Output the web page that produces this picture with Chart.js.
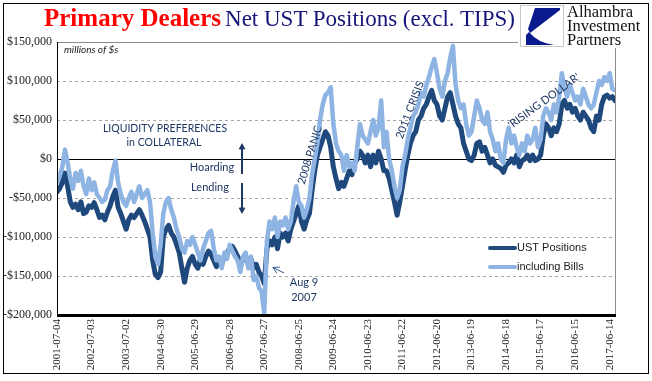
<!DOCTYPE html>
<html>
<head>
<meta charset="utf-8">
<script src="https://cdn.jsdelivr.net/npm/chart.js@4.4.0/dist/chart.umd.min.js"></script>
<style>
  html, body { margin: 0; padding: 0; background: #fff; }
  #wrap { position: relative; width: 652px; height: 381px; overflow: hidden; }
  #frame { position: absolute; left: 3px; top: 3px; width: 644px; height: 369px; border: 1px solid #000; pointer-events: none; z-index: 5; }
  #title { position: absolute; left: 44px; top: 3px; white-space: nowrap; font-family: "Liberation Serif", serif; line-height: 30px; z-index: 3; }
  #title .red { color: #ff0000; font-weight: bold; font-size: 25px; }
  #title .navy { color: #15157a; font-size: 23px; }
  #logo { position: absolute; left: 518px; top: 4px; width: 129px; height: 44px; background: #fff; z-index: 3; }
  #logo svg { position: absolute; left: 2px; top: 1px; }
  #logo .txt { position: absolute; left: 49px; top: 1px; font-family: "Liberation Serif", serif; font-size: 16.5px; line-height: 14px; color: #111; }
</style>
</head>
<body>
<div id="wrap">
  <canvas id="chart" width="652" height="381"></canvas>
  <div id="title"><span class="red">Primary Dealers</span> <span class="navy">Net UST Positions (excl. TIPS)</span></div>
  <div id="logo">
    <svg width="44" height="42" viewBox="0 0 44 42">
      <rect x="0.5" y="0.5" width="43" height="41" fill="#fff" stroke="#c8c8c8"/>
      <path d="M15 3 L40 3 L40 5 L10 28 L8 24 Z" fill="#0a1a8c"/>
      <path d="M6 40 L34 40 Q18 38 9 27 L6 30 Z" fill="#0a1a8c"/>
    </svg>
    <div class="txt">Alhambra<br>Investment<br>Partners</div>
  </div>
  <div id="frame"></div>
</div>
<script>
// weekly series sampled every 4 weeks, starting 2001-07-04 (millions of $)
const weekStep = 4;

const ustPositions = [
  -42000, -38000, -30000, -18000, -35000, -55000, -62000, -58000, -65000, -55000,
  -70000, -68000, -60000, -62000, -56000, -65000, -75000, -72000, -78000, -68000,
  -60000, -48000, -40000, -62000, -70000, -80000, -90000, -78000, -72000, -75000,
  -70000, -65000, -72000, -80000, -90000, -100000, -130000, -148000, -152000, -145000,
  -100000, -90000, -85000, -95000, -100000, -110000, -120000, -140000, -158000, -140000,
  -130000, -125000,
  -135000, -140000, -128000, -135000, -125000, -118000, -122000, -130000, -138000, -128000,
  -135000, -125000, -120000, -115000, -112000, -118000, -125000, -132000, -130000, -125000,
  -135000, -128000, -140000, -135000, -145000, -150000, -160000, -115000, -105000, -110000,
  -100000, -115000, -95000, -100000, -95000, -105000, -90000, -80000, -70000, -60000,
  -80000, -90000, -78000, -70000, -40000, -15000, 5000, 15000, 25000, 35000,
  30000, 15000, -10000,
  -25000, -38000, -30000, -35000, -25000, -15000, -20000, -5000, 0, 10000,
  5000, -5000, 5000, -10000, 5000, -5000, 10000, 0, -15000, -15000,
  -25000, -40000, -55000, -72000, -55000, -35000, -15000, 5000, 20000, 30000,
  35000, 50000, 55000, 65000, 70000, 80000, 88000, 75000, 70000, 55000,
  50000, 65000, 80000, 85000, 70000, 55000, 45000, 40000, 20000, 10000,
  0, -2000, 5000,
  20000, 22000, 10000, 15000, 5000, -5000, 0, -8000, -10000, -12000,
  -17000, -8000, -5000, 0, -5000, 5000, -10000, -2000, 0, 5000,
  -2000, 5000, -2000, 0, 5000, 30000, 45000, 40000, 30000, 40000,
  35000, 45000, 70000, 75000, 65000, 70000, 60000, 65000, 55000, 50000,
  60000, 55000, 50000, 40000, 35000, 55000, 50000, 70000, 80000, 82000,
  78000, 80000, 75000
];

const inclBills = [
  -30000, -22000, -10000, 12000, -5000, -25000, -38000, -18000, -28000, -15000,
  -35000, -45000, -25000, -40000, -30000, -45000, -50000, -55000, -52000, -40000,
  -35000, -15000, -2000, -30000, -45000, -55000, -60000, -50000, -42000, -55000,
  -45000, -35000, -50000, -45000, -40000, -55000, -95000, -125000, -135000, -110000,
  -70000, -55000, -50000, -65000, -75000, -90000, -100000, -115000, -120000, -105000,
  -110000, -100000,
  -110000, -120000, -130000, -115000, -105000, -95000, -92000, -115000, -130000, -125000,
  -140000, -120000, -128000, -110000, -118000, -125000, -130000, -145000, -125000, -120000,
  -140000, -125000, -155000, -150000, -165000, -170000, -198000, -105000, -80000, -90000,
  -75000, -100000, -80000, -85000, -75000, -90000, -80000, -55000, -35000, -55000,
  -60000, -75000, -65000, -50000, -20000, 0, 20000, 50000, 70000, 82000,
  85000, 92000, 45000,
  20000, 10000, 5000, -15000, 5000, -10000, -5000, -15000, 15000, 45000,
  30000, 25000, 20000, 35000, 50000, 30000, 40000, 75000, 15000, 35000,
  0, -15000, -35000, -50000, -40000, -10000, 5000, 25000, 40000, 55000,
  60000, 70000, 85000, 80000, 95000, 105000, 118000, 128000, 110000, 90000,
  80000, 100000, 110000, 130000, 145000, 95000, 75000, 65000, 70000, 45000,
  30000, 35000, 55000,
  75000, 65000, 50000, 45000, 60000, 35000, 25000, 10000, 20000, 0,
  -5000, 25000, 40000, 20000, 30000, 15000, 5000, 20000, 10000, 30000,
  20000, 25000, 40000, 15000, 25000, 55000, 65000, 60000, 50000, 70000,
  60000, 80000, 110000, 90000, 80000, 95000, 85000, 75000, 80000, 70000,
  90000, 80000, 70000, 65000, 70000, 85000, 100000, 95000, 105000, 100000,
  110000, 90000, 88000
];

const tickWeeks = [0, 52, 104, 156, 208, 260, 312, 364, 416, 468, 520, 572, 624, 676, 728, 780, 832];
const tickLabels = [
  '2001-07-04', '2002-07-03', '2003-07-02', '2004-06-30', '2005-06-29', '2006-06-28',
  '2007-06-27', '2008-06-25', '2009-06-24', '2010-06-23', '2011-06-22', '2012-06-20',
  '2013-06-19', '2014-06-18', '2015-06-17', '2016-06-15', '2017-06-14'
];

const DARK = '#1f497d';
const LIGHT = '#8db4e2';
const NOTE = '#1f3864';

function toPoints(values) {
  return values.map((v, i) => ({ x: i * weekStep, y: v }));
}

function arrow(ctx, x1, y1, x2, y2, head) {
  const a = Math.atan2(y2 - y1, x2 - x1);
  ctx.beginPath();
  ctx.moveTo(x1, y1);
  ctx.lineTo(x2, y2);
  ctx.moveTo(x2 - head * Math.cos(a - 0.5), y2 - head * Math.sin(a - 0.5));
  ctx.lineTo(x2, y2);
  ctx.lineTo(x2 - head * Math.cos(a + 0.5), y2 - head * Math.sin(a + 0.5));
  ctx.stroke();
}

function rotText(ctx, text, x, y, deg) {
  ctx.save();
  ctx.translate(x, y);
  ctx.rotate(deg * Math.PI / 180);
  ctx.fillText(text, 0, 0);
  ctx.restore();
}

const extras = {
  id: 'extras',
  beforeDatasetsDraw(chart) {
    const { ctx, chartArea: a, scales: { y } } = chart;
    const y0 = Math.round(y.getPixelForValue(0)) + 0.5;
    ctx.save();
    ctx.strokeStyle = '#000';
    ctx.lineWidth = 1.2;
    ctx.beginPath();
    ctx.moveTo(a.left, y0);
    ctx.lineTo(a.right, y0);
    ctx.stroke();
    ctx.restore();
  },
  afterDatasetsDraw(chart) {
    const { ctx, chartArea: a, scales: { x, y } } = chart;
    ctx.save();
    // plot border
    ctx.strokeStyle = '#8c8c8c';
    ctx.lineWidth = 1;
    ctx.beginPath();
    ctx.moveTo(a.left, a.top + 0.5);
    ctx.lineTo(a.right + 0.5, a.top + 0.5);
    ctx.lineTo(a.right + 0.5, a.bottom);
    ctx.stroke();
    ctx.strokeStyle = '#000';
    ctx.beginPath();
    ctx.moveTo(a.left + 0.5, a.top);
    ctx.lineTo(a.left + 0.5, a.bottom);
    ctx.stroke();
    ctx.lineWidth = 3;
    ctx.beginPath();
    ctx.moveTo(a.left, a.bottom + 0.5);
    ctx.lineTo(a.right + 1, a.bottom + 0.5);
    ctx.stroke();

    // notes
    ctx.fillStyle = '#222';
    ctx.font = 'italic 10px Lato, sans-serif';
    ctx.textAlign = 'left';
    ctx.textBaseline = 'alphabetic';
    ctx.fillText('millions of $s', 64, 53);

    ctx.fillStyle = NOTE;
    ctx.textAlign = 'center';
    ctx.textBaseline = 'middle';
    ctx.font = '10.5px Lato, sans-serif';
    ctx.fillText('LIQUIDITY PREFERENCES', 165, 129);
    ctx.fillText('in COLLATERAL', 164, 143);
    ctx.font = '11px Lato, sans-serif';
    ctx.fillText('Hoarding', 212, 167);
    ctx.fillText('Lending', 210, 187);
    rotText(ctx, '2008 PANIC', 310, 155, -73);
    rotText(ctx, '2011 CRISIS', 410, 110, -69);
    rotText(ctx, "'RISING DOLLAR'", 544, 101, -36);
    ctx.fillText('Aug 9', 304, 282);
    ctx.fillText('2007', 304, 297);

    ctx.strokeStyle = NOTE;
    ctx.lineWidth = 2;
    arrow(ctx, 242, 174, 242, 145, 5);
    arrow(ctx, 242, 183, 242, 212, 5);
    ctx.strokeStyle = '#2e5c8a';
    ctx.lineWidth = 1;
    arrow(ctx, 284, 273, x.getPixelForValue(325), y.getPixelForValue(-139000), 7);

    // legend
    ctx.lineCap = 'round';
    ctx.lineWidth = 4;
    ctx.strokeStyle = DARK;
    ctx.beginPath(); ctx.moveTo(490, 248); ctx.lineTo(515, 248); ctx.stroke();
    ctx.strokeStyle = LIGHT;
    ctx.beginPath(); ctx.moveTo(490, 267); ctx.lineTo(515, 267); ctx.stroke();
    ctx.fillStyle = '#222';
    ctx.font = '11px "Liberation Sans", Arial, sans-serif';
    ctx.textAlign = 'left';
    ctx.fillText('UST Positions', 517, 248);
    ctx.fillText('including Bills', 517, 267);
    ctx.restore();
  }
};

new Chart(document.getElementById('chart'), {
  type: 'line',
  data: {
    datasets: [
      {
        label: 'including Bills',
        data: toPoints(inclBills),
        borderColor: LIGHT,
        borderWidth: 4.5,
        order: 0
      },
      {
        label: 'UST Positions',
        data: toPoints(ustPositions),
        borderColor: DARK,
        borderWidth: 5,
        order: 1
      }
    ]
  },
  options: {
    responsive: false,
    animation: false,
    events: [],
    devicePixelRatio: 1,
    layout: { padding: { top: 42, right: 37, left: 0, bottom: 0 } },
    elements: {
      point: { radius: 0 },
      line: { tension: 0, borderJoinStyle: 'round', borderCapStyle: 'round' }
    },
    plugins: { legend: { display: false }, tooltip: { enabled: false } },
    scales: {
      x: {
        type: 'linear',
        min: 0,
        max: 840,
        afterFit: s => { s.height = 66; },
        afterBuildTicks: s => { s.ticks = tickWeeks.map(v => ({ value: v })); },
        grid: { display: false, drawTicks: false },
        border: { display: false },
        ticks: {
          autoSkip: false,
          minRotation: 90,
          maxRotation: 90,
          padding: 4,
          color: '#222',
          font: { family: '"Liberation Serif", serif', size: 11 },
          callback: (v, i) => tickLabels[i]
        }
      },
      y: {
        min: -200000,
        max: 150000,
        afterFit: s => { s.width = 57; },
        grid: {
          drawTicks: false,
          lineWidth: 1,
          color: c => [0, 150000, -200000].includes(c.tick.value) ? 'rgba(0,0,0,0)' : '#a6a6a6'
        },
        border: { display: false, dash: [3, 3] },
        ticks: {
          stepSize: 50000,
          padding: 5,
          color: '#222',
          font: { family: '"Liberation Serif", serif', size: 12 },
          callback: v => (v < 0 ? '-$' : '$') + Math.abs(v).toLocaleString('en-US')
        }
      }
    }
  },
  plugins: [extras]
});
</script>
</body>
</html>
